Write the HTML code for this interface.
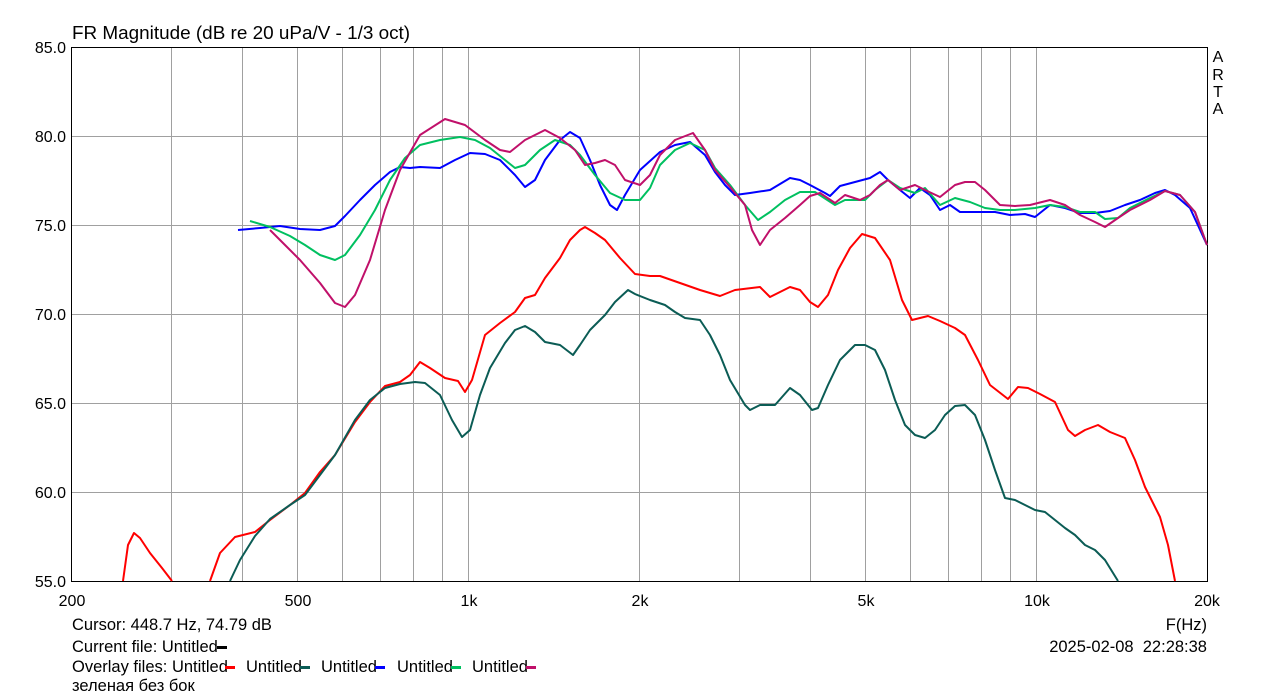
<!DOCTYPE html>
<html><head><meta charset="utf-8"><style>
body{margin:0;background:#fff;width:1279px;height:699px;overflow:hidden}
svg{display:block;font-family:"Liberation Sans",Arial,sans-serif}
</style></head><body>
<svg id="s" width="1279" height="699" viewBox="0 0 1279 699" xmlns="http://www.w3.org/2000/svg">
<rect width="1279" height="699" fill="#fff"/>
<g id="grid" stroke="#a0a0a0" stroke-width="1"></g>
<rect x="71.5" y="47.5" width="1136" height="534" fill="none" stroke="#000"/>
<text x="72" y="39" font-size="18.9">FR Magnitude (dB re 20 uPa/V - 1/3 oct)</text>
<g font-size="16" text-anchor="end">
<text x="66" y="53">85.0</text><text x="66" y="142">80.0</text><text x="66" y="231">75.0</text>
<text x="66" y="320">70.0</text><text x="66" y="409">65.0</text><text x="66" y="498">60.0</text><text x="66" y="587">55.0</text>
</g>
<g font-size="16" text-anchor="middle">
<text x="72" y="606">200</text><text x="298" y="606">500</text><text x="469" y="606">1k</text>
<text x="640" y="606">2k</text><text x="866" y="606">5k</text><text x="1037" y="606">10k</text><text x="1207" y="606">20k</text>
</g>
<g font-size="16" text-anchor="middle"><text x="1218" y="62">A</text><text x="1218" y="80">R</text><text x="1218" y="97">T</text><text x="1218" y="114">A</text></g>
<g font-size="16.5">
<text x="1207" y="630" text-anchor="end">F(Hz)</text>
<text x="1207" y="652" text-anchor="end" xml:space="preserve">2025-02-08  22:28:38</text>
<text x="72" y="630">Cursor: 448.7 Hz, 74.79 dB</text>
<text x="72" y="652">Current file: Untitled</text>
<rect x="217" y="646" width="10" height="3" fill="#000"/>
<text x="72" y="672">Overlay files: Untitled</text>
<rect x="225" y="666" width="10" height="3" fill="#f00"/>
<text x="246" y="672">Untitled</text><rect x="300" y="666" width="10" height="3" fill="#0b5c55"/>
<text x="321" y="672">Untitled</text><rect x="375" y="666" width="10" height="3" fill="#00f"/>
<text x="397" y="672">Untitled</text><rect x="451" y="666" width="10" height="3" fill="#00c060"/>
<text x="472" y="672">Untitled</text><rect x="526" y="666" width="10" height="3" fill="#c0106a"/>
<text x="72" y="691">зеленая без бок</text>
</g>
<g fill="none" stroke-width="2" stroke-linejoin="round">
<polyline stroke="#f00" points="123,581 128,545 134,533 140,538 150,553 162,568 172,581"/>
<polyline stroke="#f00" points="210,581 220,553 235,537 255,532 270,520 290,505 305,493 320,472 335,455 355,422 370,402 385,386 400,382 410,375 420,362 430,368 445,378 458,381 465,392 472,380 485,335 500,323 515,312 525,298 535,295 545,278 560,258 570,240 580,230 585,227 595,233 605,240 620,258 635,274 650,276 660,276 680,283 700,290 710,293 720,296 735,290 760,287 770,297 780,292 790,287 800,290 810,302 818,307 828,295 838,270 850,248 862,234 875,238 890,260 902,300 912,320 928,316 940,321 955,328 965,335 978,360 990,385 1008,399 1018,387 1028,388 1040,394 1055,402 1068,430 1075,436 1085,430 1098,425 1110,432 1125,438 1135,460 1145,487 1160,517 1168,545 1175,581"/>
<polyline stroke="#0b5c55" points="230,581 240,560 255,536 270,519 290,505 305,495 320,475 335,455 355,420 370,400 385,388 400,384 415,382 425,383 440,395 452,420 462,437 470,430 480,395 490,368 505,343 515,330 525,326 535,332 545,342 560,345 573,355 580,345 590,330 605,315 615,302 628,290 635,294 650,300 665,305 675,312 685,318 700,320 710,335 720,355 730,380 745,405 750,410 760,405 770,405 775,405 790,388 800,395 812,410 818,408 828,385 840,360 855,345 865,345 875,350 885,370 895,400 905,425 915,435 925,438 935,430 945,415 955,406 965,405 975,415 985,440 995,470 1005,498 1015,500 1025,505 1035,510 1045,512 1055,520 1065,528 1075,535 1085,545 1095,550 1105,560 1118,581"/>
<polyline stroke="#00f" points="238,230 260,228 280,226 300,229 320,230 335,226 345,216 360,200 375,185 390,172 400,167 410,168 420,167 440,168 455,160 470,153 485,154 500,160 515,175 525,187 535,180 545,160 560,140 570,132 580,138 590,160 600,185 610,205 617,210 625,195 640,170 660,152 675,145 690,142 705,155 715,172 725,185 735,195 750,193 770,190 790,178 800,180 810,185 825,193 830,196 840,186 855,182 870,178 880,172 888,180 900,190 910,198 920,188 930,195 940,210 950,205 960,212 975,212 995,212 1010,215 1025,214 1035,217 1050,205 1065,208 1080,213 1095,213 1110,211 1125,205 1140,200 1155,193 1165,190 1175,195 1190,208 1207,245"/>
<polyline stroke="#00c060" points="250,221 270,227 290,236 305,245 320,255 335,260 345,255 360,235 375,210 390,180 405,158 420,145 440,140 460,137 475,140 490,148 505,160 515,168 525,165 540,150 555,140 570,145 580,155 595,175 610,193 625,200 640,200 650,188 660,165 675,150 690,143 705,150 715,168 730,185 745,205 758,220 770,212 785,200 800,192 815,192 835,205 845,200 855,200 865,200 875,190 888,180 900,188 915,193 925,188 940,205 955,198 970,202 985,208 1000,210 1015,210 1035,208 1050,205 1065,207 1080,212 1095,212 1105,219 1118,218 1130,208 1150,198 1165,191 1180,195 1195,212 1207,245"/>
<polyline stroke="#c0106a" points="270,230 285,245 300,260 320,283 335,303 345,307 355,295 370,260 385,210 400,170 420,135 445,119 465,125 485,140 500,150 510,152 525,140 545,130 560,138 575,150 585,165 595,163 605,160 615,165 625,180 640,185 650,175 660,155 675,140 693,133 705,150 715,170 730,187 745,205 752,230 760,245 770,230 785,218 800,205 810,196 820,193 835,203 845,195 860,200 870,195 880,185 888,180 900,190 915,185 925,190 940,197 955,185 965,182 975,182 985,190 1000,205 1015,206 1030,205 1050,200 1065,205 1080,215 1095,222 1105,227 1118,218 1130,210 1150,200 1165,191 1180,195 1195,212 1207,245"/>
</g>
</svg>
<script>
var g=document.getElementById('grid'),ns='http://www.w3.org/2000/svg';
function L(x1,y1,x2,y2){var l=document.createElementNS(ns,'line');l.setAttribute('x1',x1);l.setAttribute('y1',y1);l.setAttribute('x2',x2);l.setAttribute('y2',y2);g.appendChild(l);}
var fs=[300,400,500,600,700,800,900,1000,2000,3000,4000,5000,6000,7000,8000,9000,10000];
fs.forEach(function(f){var x=Math.round(71+568*Math.log10(f/200))+0.5;L(x,48,x,581);});
for(var d=80;d>55;d-=5){var y=Math.round(47+(85-d)*17.8)+0.5;L(72,y,1207,y);}
</script>
</body></html>
